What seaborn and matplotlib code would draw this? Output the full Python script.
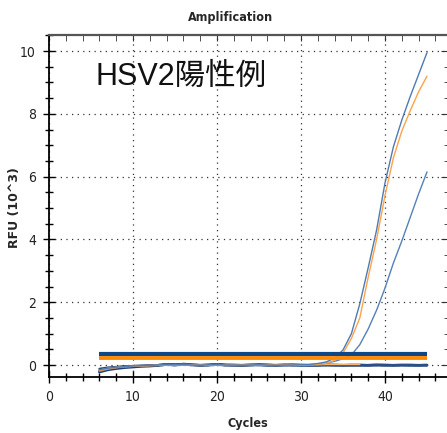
import matplotlib
matplotlib.use("Agg")
import matplotlib.pyplot as plt
import seaborn as sns
import pandas as pd
from matplotlib.ticker import MultipleLocator

# ---------------- data ----------------
cycles = list(range(6, 46))

pos_blue_a = [-0.15, -0.10, -0.07, -0.05, -0.03, -0.02, -0.01, 0.00, 0.02, 0.01,
              0.02, 0.00, -0.01, 0.01, 0.02, 0.00, 0.00, -0.01, 0.00, 0.01,
              0.00, -0.01, 0.00, 0.00, 0.01, 0.02, 0.05, 0.10, 0.22, 0.48,
              1.00, 1.95, 3.10, 4.30, 5.80, 6.95, 7.80, 8.55, 9.25, 9.95]
pos_orange = [-0.18, -0.12, -0.08, -0.05, -0.04, -0.03, -0.02, -0.01, 0.01, 0.00,
              0.01, 0.00, -0.01, 0.00, 0.01, 0.00, 0.00, -0.01, 0.00, 0.00,
              0.00, -0.01, 0.00, 0.00, 0.00, 0.01, 0.02, 0.06, 0.15, 0.38,
              0.85, 1.50, 2.80, 4.00, 5.40, 6.60, 7.45, 8.10, 8.70, 9.20]
pos_blue_b = [-0.20, -0.13, -0.09, -0.06, -0.04, -0.03, -0.02, -0.01, 0.02, 0.00,
              0.03, 0.01, -0.01, 0.00, 0.02, 0.00, 0.00, -0.01, 0.01, 0.00,
              -0.01, -0.02, -0.01, 0.00, 0.01, 0.01, 0.02, 0.06, 0.12, 0.20,
              0.32, 0.65, 1.15, 1.75, 2.45, 3.25, 3.95, 4.70, 5.45, 6.15]
neg_1 = [-0.22, -0.15, -0.11, -0.08, -0.06, -0.04, -0.03, -0.01, 0.02, 0.00,
         0.03, 0.01, -0.01, 0.00, 0.02, 0.00, 0.00, -0.01, 0.00, 0.01,
         0.00, -0.01, 0.00, 0.01, 0.00, -0.01, -0.01, 0.00, 0.00, -0.01,
         0.00, 0.00, -0.01, 0.00, 0.00, -0.01, 0.00, 0.00, -0.01, 0.00]
neg_2 = [-0.12, -0.08, -0.06, -0.04, -0.03, -0.02, -0.01, 0.00, 0.01, 0.02,
         0.01, 0.00, 0.00, 0.01, 0.01, 0.00, -0.01, 0.00, 0.01, 0.00,
         -0.01, 0.00, 0.01, 0.00, -0.01, 0.00, 0.00, 0.01, 0.00, 0.00,
         -0.01, 0.00, 0.00, 0.01, 0.00, 0.00, 0.00, -0.01, 0.00, 0.00]
neg_3 = [-0.18, -0.11, -0.07, -0.05, -0.03, -0.03, -0.02, 0.00, 0.02, 0.01,
         0.02, 0.01, 0.00, 0.00, 0.03, 0.01, 0.00, 0.00, 0.00, 0.02,
         0.01, 0.00, 0.00, -0.01, 0.00, 0.00, 0.01, 0.00, -0.01, 0.00,
         0.00, -0.01, 0.00, 0.00, -0.01, 0.00, 0.00, 0.00, 0.00, -0.01]
neg_orange = [-0.16, -0.10, -0.07, -0.05, -0.04, -0.02, -0.01, 0.00, 0.01, 0.01,
              0.01, 0.00, 0.00, 0.00, 0.01, 0.00, 0.00, 0.00, 0.01, 0.00,
              0.00, 0.00, 0.01, 0.01, 0.01, 0.01, 0.01, 0.02, 0.02, 0.02,
              0.02, 0.02]
neg_orange_cycles = list(range(6, 38))

threshold_values = [0.35, 0.24]
threshold_start, threshold_end = 6, 45

x_ticks = [0, 10, 20, 30, 40]
y_ticks = [0, 2, 4, 6, 8, 10]

title = "Amplification"
x_label = "Cycles"
y_label = "RFU (10^3)"
annotation = "HSV2陽性例"

# ---------------- long-form table ----------------
series = {
    "neg1": (cycles, neg_1),
    "neg2": (cycles, neg_2),
    "neg3": (cycles, neg_3),
    "negO": (neg_orange_cycles, neg_orange),
    "posB": (cycles, pos_blue_b),
    "posO": (cycles, pos_orange),
    "posA": (cycles, pos_blue_a),
}
rows = []
for name, (xs, ys) in series.items():
    for xv, yv in zip(xs, ys):
        rows.append({"cycle": xv, "rfu": yv, "well": name})
df = pd.DataFrame(rows)

palette = {"neg1": "#1d3c6e", "neg2": "#23467c", "neg3": "#2b4f86",
           "negO": "#f7b46e", "posB": "#5481b6", "posO": "#ffa24a",
           "posA": "#4e7bb2"}
widths = {"neg1": 2.0, "neg2": 1.6, "neg3": 1.6, "negO": 1.0,
          "posB": 1.0, "posO": 1.0, "posA": 1.0}

sns.set_style("white")
plt.rcParams["font.family"] = ["DejaVu Sans"]

fig = plt.figure(figsize=(4.47, 4.33), dpi=100)
ax = fig.add_axes([49 / 447, 56 / 433, 399 / 447, 342 / 433])

for name in series:
    sub = df[df["well"] == name]
    sns.lineplot(data=sub, x="cycle", y="rfu", color=palette[name],
                 linewidth=widths[name], estimator=None, ax=ax, legend=False,
                 zorder=3)

ax.hlines(threshold_values[0], threshold_start, threshold_end,
          color="#0d4785", linewidth=3.0, zorder=4)
ax.hlines(threshold_values[1], threshold_start, threshold_end,
          color="#ff8a05", linewidth=2.8, zorder=4)

ax.set_xlim(0, 47.5)
ax.set_ylim(-0.38, 10.51)
ax.set_xlabel("")
ax.set_ylabel("")

ax.set_xticks(x_ticks)
ax.set_yticks(y_ticks)
ax.xaxis.set_minor_locator(MultipleLocator(2))
ax.yaxis.set_minor_locator(MultipleLocator(0.5))
ax.tick_params(axis="both", which="both", bottom=True, left=True,
               top=False, right=False)
ax.tick_params(axis="both", which="major", direction="inout", length=9,
               width=1.0, color="black", labelsize=10, pad=5)
ax.tick_params(axis="both", which="minor", direction="inout", length=6,
               width=1.0, color="black")
for lab in ax.get_xticklabels() + ax.get_yticklabels():
    lab.set_fontstretch("condensed")
    lab.set_color("#222222")

ax.grid(True, which="major", color="#333333", linestyle=(0, (1, 3.5)),
        linewidth=0.9)
ax.set_axisbelow(True)

for side in ["left", "bottom"]:
    ax.spines[side].set_color("black")
    ax.spines[side].set_linewidth(1.3)
ax.spines["top"].set_color("#555555")
ax.spines["top"].set_linewidth(1.6)
ax.spines["right"].set_color("#555555")

top = ax.secondary_xaxis("top")
top.set_xticks(x_ticks)
top.xaxis.set_minor_locator(MultipleLocator(2))
top.tick_params(axis="x", which="both", direction="in", length=4, top=True,
                labeltop=False, color="#333333")
top.spines["top"].set_visible(False)
right = ax.secondary_yaxis("right")
right.set_yticks(y_ticks)
right.yaxis.set_minor_locator(MultipleLocator(0.5))
right.tick_params(axis="y", which="major", direction="in", length=5,
                  right=True, labelright=False, color="#333333")
right.tick_params(axis="y", which="minor", direction="in", length=3,
                  right=True, labelright=False, color="#333333")

fig.text(248 / 447, 1 - 424 / 433, x_label, fontsize=9, fontweight="bold",
         fontstretch="condensed", ha="center", va="center")
fig.text(15 / 447, 1 - 208 / 433, y_label, fontsize=9, fontweight="bold",
         rotation=90, ha="center", va="center")
fig.text(231 / 447, 1 - 17 / 433, title, fontsize=9, fontweight="bold",
         fontstretch="condensed", ha="center", va="center")

fig.text(95 / 447, 1 - 77 / 433, annotation,
         fontsize=22, family=["Liberation Sans", "Noto Sans CJK JP"],
         color="#111111", ha="left", va="center")

fig.savefig("out.png", dpi=100)
